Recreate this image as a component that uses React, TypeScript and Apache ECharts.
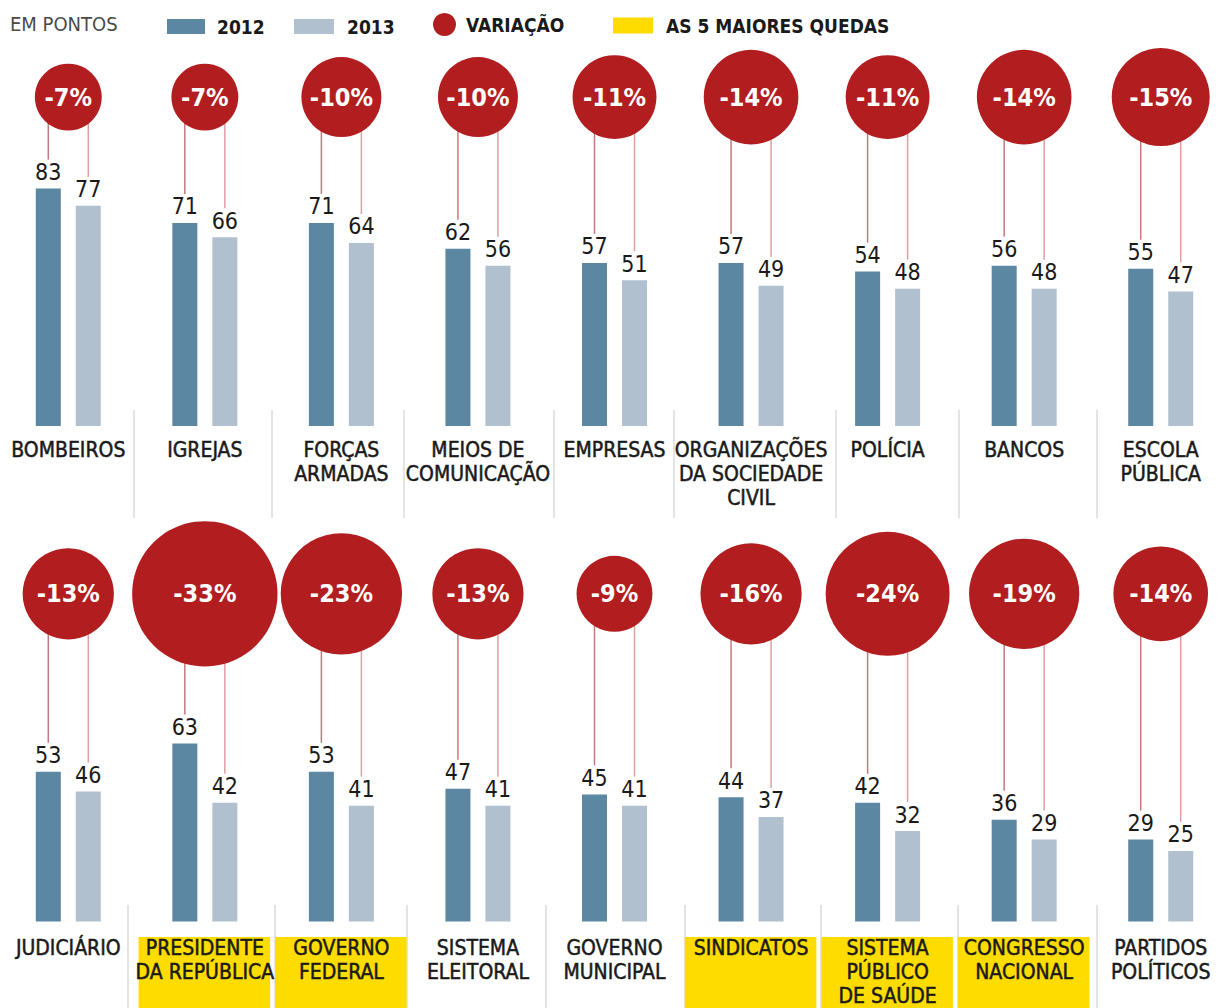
import React, { useEffect, useRef } from 'react';
import * as echarts from 'echarts';

// ---------- DATA ----------
const categoriesTop = [
  'BOMBEIROS',
  'IGREJAS',
  'FORÇAS\nARMADAS',
  'MEIOS DE\nCOMUNICAÇÃO',
  'EMPRESAS',
  'ORGANIZAÇÕES\nDA SOCIEDADE\nCIVIL',
  'POLÍCIA',
  'BANCOS',
  'ESCOLA\nPÚBLICA',
];
const values2012Top = [83, 71, 71, 62, 57, 57, 54, 56, 55];
const values2013Top = [77, 66, 64, 56, 51, 49, 48, 48, 47];
const variationTop = [-7, -7, -10, -10, -11, -14, -11, -14, -15];

const categoriesBottom = [
  'JUDICIÁRIO',
  'PRESIDENTE\nDA REPÚBLICA',
  'GOVERNO\nFEDERAL',
  'SISTEMA\nELEITORAL',
  'GOVERNO\nMUNICIPAL',
  'SINDICATOS',
  'SISTEMA\nPÚBLICO\nDE SAÚDE',
  'CONGRESSO\nNACIONAL',
  'PARTIDOS\nPOLÍTICOS',
];
const values2012Bottom = [53, 63, 53, 47, 45, 44, 42, 36, 29];
const values2013Bottom = [46, 42, 41, 41, 41, 37, 32, 29, 25];
const variationBottom = [-13, -33, -23, -13, -9, -16, -24, -19, -14];

const topFiveDrops = [
  'PRESIDENTE\nDA REPÚBLICA',
  'GOVERNO\nFEDERAL',
  'SINDICATOS',
  'SISTEMA\nPÚBLICO\nDE SAÚDE',
  'CONGRESSO\nNACIONAL',
];

// ---------- STYLE / LAYOUT ----------
const FONT = "'DejaVu Sans Condensed', 'Liberation Sans Narrow', 'Roboto', sans-serif";
const C2012 = '#5b87a2';
const C2013 = '#b1c0cf';
const RED = '#b21e1f';
const YELLOW = '#ffdc00';
const LINE_L = '#c47a7d';
const LINE_R = '#dea0a2';
const TEXT = '#1a1a1a';

const GRIDS = [
  { top: 25.6, height: 400.4, labelMargin: 12 },
  { top: 526, height: 395.5, labelMargin: 14 },
];
const Y_MAX = 140;
const CIRCLE_LEVEL = [115, 116];
const BAR_OFFSET = 20;
const LINE_GAP = 29;

const SEPARATORS_TOP = [134, 272, 404, 554, 674, 836, 959, 1097];
const SEPARATORS_BOTTOM = [128, 275, 407, 546, 685, 821, 958, 1097];

export default function App() {
  const ref = useRef<HTMLDivElement>(null);

  useEffect(() => {
    const chart = echarts.init(ref.current as HTMLDivElement, null, { renderer: 'svg' });

    const rows = [
      { cats: categoriesTop, a: values2012Top, b: values2013Top, v: variationTop },
      { cats: categoriesBottom, a: values2012Bottom, b: values2013Bottom, v: variationBottom },
    ];

    const series: any[] = [];
    rows.forEach((row, r) => {
      const barLabel = {
        show: true,
        position: 'top',
        distance: 5,
        fontFamily: FONT,
        fontSize: 23,
        color: TEXT,
      };
      series.push({
        type: 'bar',
        name: '2012',
        xAxisIndex: r,
        yAxisIndex: r,
        data: row.a,
        barWidth: 25,
        barGap: '60%',
        itemStyle: { color: C2012 },
        label: barLabel,
        z: 2,
      });
      series.push({
        type: 'bar',
        name: '2013',
        xAxisIndex: r,
        yAxisIndex: r,
        data: row.b,
        barWidth: 25,
        barGap: '60%',
        itemStyle: { color: C2013 },
        label: barLabel,
        z: 2,
      });
      series.push({
        type: 'custom',
        xAxisIndex: r,
        yAxisIndex: r,
        silent: true,
        z: 1,
        data: row.cats.map((_, i) => [i, row.a[i], row.b[i]]),
        renderItem: (_params: any, api: any) => {
          const idx = api.value(0);
          const cx = api.coord([idx, 0])[0];
          const yc = api.coord([idx, CIRCLE_LEVEL[r]])[1];
          const ya = api.coord([idx, api.value(1)])[1] - LINE_GAP;
          const yb = api.coord([idx, api.value(2)])[1] - LINE_GAP;
          return {
            type: 'group',
            children: [
              {
                type: 'line',
                shape: { x1: cx - BAR_OFFSET, y1: yc, x2: cx - BAR_OFFSET, y2: ya },
                style: { stroke: LINE_L, lineWidth: 1.5 },
              },
              {
                type: 'line',
                shape: { x1: cx + BAR_OFFSET, y1: yc, x2: cx + BAR_OFFSET, y2: yb },
                style: { stroke: LINE_R, lineWidth: 1.5 },
              },
            ],
          };
        },
      });
      series.push({
        type: 'scatter',
        name: 'VARIAÇÃO',
        xAxisIndex: r,
        yAxisIndex: r,
        clip: false,
        z: 3,
        data: row.v.map((v, i) => [i, CIRCLE_LEVEL[r], v]),
        symbol: 'circle',
        symbolSize: (d: number[]) => 25.3 * Math.sqrt(Math.abs(d[2])),
        itemStyle: { color: RED, opacity: 1 },
        label: {
          show: true,
          position: 'inside',
          formatter: (p: any) => `${p.value[2]}%`,
          color: '#ffffff',
          fontFamily: FONT,
          fontSize: 25,
          fontWeight: 'bold',
        },
      });
    });

    series.push({
      type: 'custom',
      name: 'AS 5 MAIORES QUEDAS',
      xAxisIndex: 1,
      yAxisIndex: 1,
      silent: true,
      z: 1,
      itemStyle: { color: YELLOW },
      data: topFiveDrops.map((c) => [categoriesBottom.indexOf(c), 0]),
      renderItem: (_params: any, api: any) => {
        const idx = api.value(0);
        const p = api.coord([idx, 0]);
        const bw = api.size([1, 0])[0];
        return {
          type: 'rect',
          shape: { x: p[0] - bw / 2 + 2, y: p[1] + 15.5, width: bw - 5, height: 200 },
          style: { fill: YELLOW },
        };
      },
    });

    const sepLines: any[] = [];
    SEPARATORS_TOP.forEach((x) =>
      sepLines.push({
        type: 'line',
        shape: { x1: x, y1: 410, x2: x, y2: 518 },
        style: { stroke: '#c8c8c8', lineWidth: 1 },
        z: 0,
      })
    );
    SEPARATORS_BOTTOM.forEach((x) =>
      sepLines.push({
        type: 'line',
        shape: { x1: x, y1: 905, x2: x, y2: 1008 },
        style: { stroke: '#c8c8c8', lineWidth: 1 },
        z: 0,
      })
    );

    const legendText = (pad: number) => ({
      fontFamily: FONT,
      fontSize: 19,
      fontWeight: 'bold',
      color: TEXT,
      padding: [0, 0, 0, pad],
    });

    const option: any = {
      animation: false,
      backgroundColor: '#ffffff',
      title: {
        text: 'EM PONTOS',
        left: 10,
        top: 14,
        padding: 0,
        textStyle: { fontFamily: FONT, fontSize: 20, fontWeight: 'normal', color: '#4a4a4a' },
      },
      legend: [
        {
          left: 167, top: 17, padding: 0, itemWidth: 38, itemHeight: 15, selectedMode: false,
          data: [{ name: '2012', icon: 'rect' }], textStyle: legendText(7),
        },
        {
          left: 294, top: 17, padding: 0, itemWidth: 40, itemHeight: 15, selectedMode: false,
          data: [{ name: '2013', icon: 'rect' }], textStyle: legendText(8),
        },
        {
          left: 433, top: 13, padding: 0, itemWidth: 23, itemHeight: 23, selectedMode: false,
          data: [{ name: 'VARIAÇÃO', icon: 'circle' }], textStyle: legendText(5),
        },
        {
          left: 613, top: 16, padding: 0, itemWidth: 40, itemHeight: 16, selectedMode: false,
          data: [{ name: 'AS 5 MAIORES QUEDAS', icon: 'rect' }], textStyle: legendText(8),
        },
      ],
      grid: GRIDS.map((g) => ({ left: -3, width: 1236, top: g.top, height: g.height })),
      xAxis: rows.map((row, r) => ({
        type: 'category',
        gridIndex: r,
        data: row.cats,
        z: 10,
        axisLine: { show: false },
        axisTick: { show: false },
        splitLine: { show: false },
        axisLabel: {
          interval: 0,
          margin: GRIDS[r].labelMargin,
          fontFamily: FONT,
          fontSize: 21,
          lineHeight: 24,
          color: TEXT,
          textBorderColor: TEXT,
          textBorderWidth: 0.5,
          align: 'center',
        },
      })),
      yAxis: rows.map((_, r) => ({
        type: 'value',
        gridIndex: r,
        min: 0,
        max: Y_MAX,
        show: false,
      })),
      graphic: sepLines,
      series,
    };

    chart.setOption(option);
    return () => chart.dispose();
  }, []);

  return (
    <div
      ref={ref}
      style={{ position: 'absolute', left: 0, top: 0, width: 1229, height: 1008, background: '#fff' }}
    />
  );
}
